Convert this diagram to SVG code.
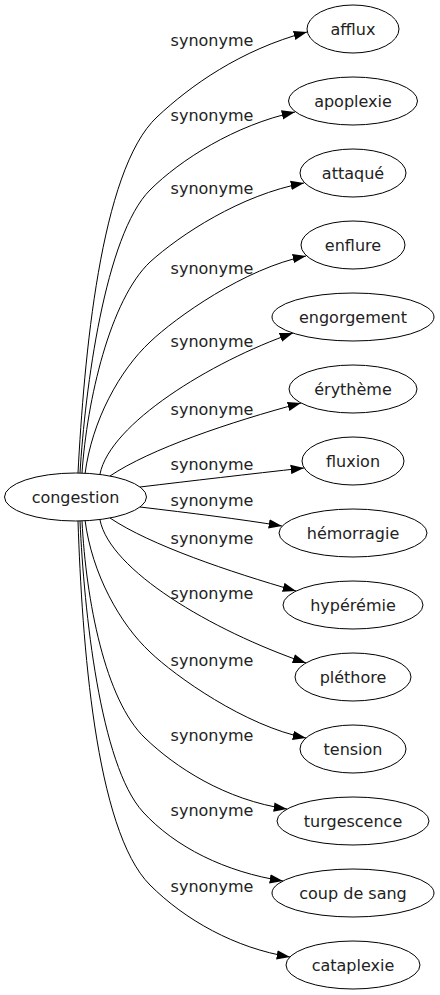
<svg xmlns="http://www.w3.org/2000/svg" width="440" height="995" viewBox="0 0 440 995">
<defs>
<style>
.node ellipse{fill:#fff;stroke:#000;stroke-width:1}
.node text{font-family:"DejaVu Sans","Liberation Sans",sans-serif;font-size:16px;fill:#222;text-anchor:middle}
.lbl{font-family:"DejaVu Sans","Liberation Sans",sans-serif;font-size:16px;fill:#222;text-anchor:middle}
#edges path{fill:none;stroke:#000;stroke-width:1;marker-end:url(#ah)}
</style>
<marker id="ah" markerUnits="userSpaceOnUse" markerWidth="14" markerHeight="10" refX="13.3" refY="5" orient="auto" viewBox="0 0 14 10">
<path d="M0,0.33 L13.3,5 L0,9.67 Z" fill="#000"/>
</marker>
</defs>
<rect width="440" height="995" fill="#fff"/>
<g id="edges">
<path d="M78,473 C84,360 100,170 157,117 C190,86 240,50 307,32"/>
<path d="M80,473 C85,390 105,235 150,190 C180,160 235,125 295,112"/>
<path d="M82,473 C87,400 110,300 150,262 C180,235 240,195 304,183"/>
<path d="M85,474 C92,420 120,370 150,342 C175,318 245,268 306,256"/>
<path d="M100,474 C110,424 210,362 293,333"/>
<path d="M110,476 C150,449 230,422 301,403"/>
<path d="M140,487 C190,481 250,474 304,468"/>
<path d="M140,507 C190,513 240,519 282,526"/>
<path d="M110,518 C150,545 230,572 296,591"/>
<path d="M100,520 C110,570 210,630 306,663"/>
<path d="M85,520 C92,574 120,624 150,652 C175,676 245,726 306,738"/>
<path d="M82,521 C86,600 105,700 145,738 C175,767 225,800 287,809"/>
<path d="M80,521 C84,610 100,765 143,812 C175,847 225,872 283,881"/>
<path d="M78,521 C82,640 95,830 150,885 C185,920 235,948 290,957"/>
<text class="lbl" x="212" y="46">synonyme</text>
<text class="lbl" x="212" y="121">synonyme</text>
<text class="lbl" x="212" y="194">synonyme</text>
<text class="lbl" x="212" y="274">synonyme</text>
<text class="lbl" x="212" y="347">synonyme</text>
<text class="lbl" x="212" y="415">synonyme</text>
<text class="lbl" x="212" y="470">synonyme</text>
<text class="lbl" x="212" y="506">synonyme</text>
<text class="lbl" x="212" y="544">synonyme</text>
<text class="lbl" x="212" y="599">synonyme</text>
<text class="lbl" x="212" y="666">synonyme</text>
<text class="lbl" x="212" y="741">synonyme</text>
<text class="lbl" x="212" y="816">synonyme</text>
<text class="lbl" x="212" y="892">synonyme</text>
</g>
<g id="n_congestion" class="node"><ellipse cx="75.5" cy="497" rx="71" ry="24"/><text x="75.5" y="503">congestion</text></g>
<g id="n_afflux" class="node"><ellipse cx="353" cy="29" rx="46" ry="24"/><text x="353" y="35">afflux</text></g>
<g id="n_apoplexie" class="node"><ellipse cx="353" cy="101" rx="64.5" ry="24"/><text x="353" y="107">apoplexie</text></g>
<g id="n_attaque" class="node"><ellipse cx="353" cy="173" rx="53" ry="24"/><text x="353" y="179">attaqué</text></g>
<g id="n_enflure" class="node"><ellipse cx="353" cy="245" rx="52" ry="24"/><text x="353" y="251">enflure</text></g>
<g id="n_engorgement" class="node"><ellipse cx="353" cy="317" rx="81" ry="24"/><text x="353" y="323">engorgement</text></g>
<g id="n_erytheme" class="node"><ellipse cx="353" cy="389" rx="64" ry="24"/><text x="353" y="395">érythème</text></g>
<g id="n_fluxion" class="node"><ellipse cx="353" cy="461" rx="51" ry="24"/><text x="353" y="467">fluxion</text></g>
<g id="n_hemorragie" class="node"><ellipse cx="353" cy="533" rx="74" ry="24"/><text x="353" y="539">hémorragie</text></g>
<g id="n_hyperemie" class="node"><ellipse cx="353" cy="605" rx="70" ry="24"/><text x="353" y="611">hypérémie</text></g>
<g id="n_plethore" class="node"><ellipse cx="353" cy="677" rx="58" ry="24"/><text x="353" y="683">pléthore</text></g>
<g id="n_tension" class="node"><ellipse cx="353" cy="749" rx="53" ry="24"/><text x="353" y="755">tension</text></g>
<g id="n_turgescence" class="node"><ellipse cx="353" cy="821" rx="76" ry="24"/><text x="353" y="827">turgescence</text></g>
<g id="n_coup_de_sang" class="node"><ellipse cx="353" cy="893" rx="81" ry="24"/><text x="353" y="899">coup de sang</text></g>
<g id="n_cataplexie" class="node"><ellipse cx="353" cy="965" rx="67" ry="24"/><text x="353" y="971">cataplexie</text></g>
</svg>
